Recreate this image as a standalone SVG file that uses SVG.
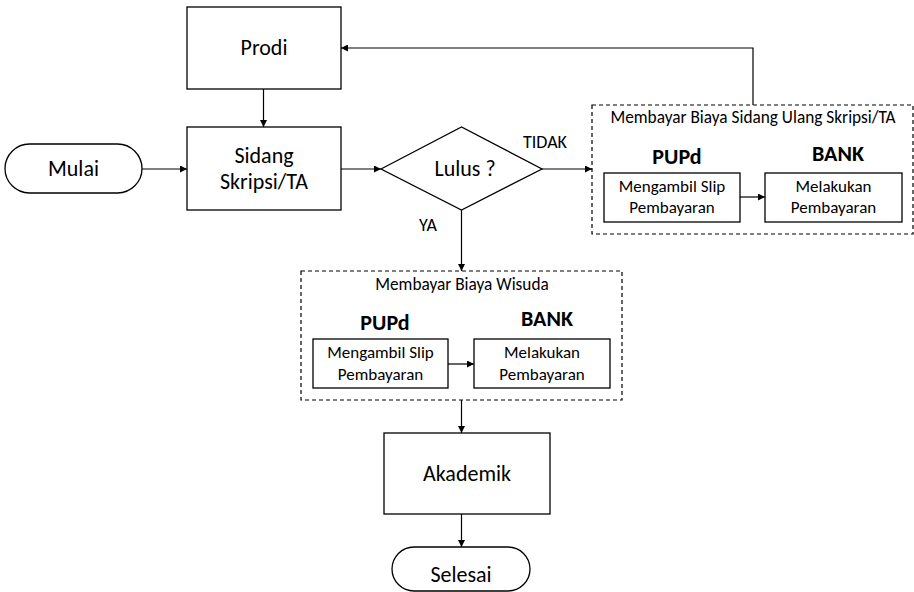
<svg xmlns="http://www.w3.org/2000/svg" width="914" height="592" viewBox="0 0 914 592">
<defs>
<marker id="ah" viewBox="0 0 10 10" refX="10" refY="5" markerWidth="7" markerHeight="7" markerUnits="userSpaceOnUse" orient="auto">
<path d="M0,0 L10,5 L0,10 z" fill="#000"/>
</marker>
<style>
text{font-family:Carlito,Lato,"Liberation Sans",sans-serif;fill:#000;text-anchor:middle}
.box{fill:#fff;stroke:#000;stroke-width:1.3}
.dash{fill:none;stroke:#000;stroke-width:1.2;stroke-dasharray:4 3}
.c{fill:none;stroke:#000;stroke-width:1.2;marker-end:url(#ah)}
.big{font-size:22px}
.sm{font-size:17px}
.ttl{font-size:17.3px}
.lbl{font-size:18px}
.bold{font-size:22px;font-weight:bold}
</style>
</defs>
<rect width="914" height="592" fill="#fff"/>
<g id="connectors">
<path class="c" d="M263.5,89 V127"/>
<path class="c" d="M142,169 H187"/>
<path class="c" d="M341,169 H381"/>
<path class="c" d="M542,169 H592"/>
<path class="c" d="M753,105 V48 H341"/>
<path class="c" d="M461.5,210 V271"/>
<path class="c" d="M740,197 H765"/>
<path class="c" d="M448,364 H474"/>
<path class="c" d="M461.5,400 V433"/>
<path class="c" d="M461.5,514 V547"/>
</g>
<g id="prodi"><rect class="box" x="187" y="7" width="154" height="82"/><text class="big" x="264" y="55">Prodi</text></g>
<g id="mulai"><rect class="box" x="5" y="144" width="137" height="49" rx="24.5"/><text class="big" x="73.5" y="176">Mulai</text></g>
<g id="sidang"><rect class="box" x="187" y="127" width="154" height="83"/><text class="big" x="264" y="163">Sidang</text><text class="big" x="264" y="189">Skripsi/TA</text></g>
<g id="lulus"><polygon class="box" points="381,169 461.5,127 542,169 461.5,210"/><text class="big" x="465" y="176">Lulus ?</text></g>
<text class="lbl" x="545" y="148">TIDAK</text>
<text class="lbl" x="428" y="231">YA</text>
<g id="ulang">
<rect class="dash" x="592" y="105" width="321" height="129"/>
<text class="ttl" x="753" y="123">Membayar Biaya Sidang Ulang Skripsi/TA</text>
<text class="bold" x="677" y="164">PUPd</text>
<text class="bold" x="838" y="161">BANK</text>
</g>
<g id="ulang-slip"><rect class="box" x="604" y="173" width="136" height="49"/><text class="sm" x="672" y="192">Mengambil Slip</text><text class="sm" x="672" y="213">Pembayaran</text></g>
<g id="ulang-bayar"><rect class="box" x="765" y="173" width="137" height="49"/><text class="sm" x="833.5" y="192">Melakukan</text><text class="sm" x="833.5" y="213">Pembayaran</text></g>
<g id="wisuda">
<rect class="dash" x="301" y="271" width="321" height="129"/>
<text class="ttl" x="462" y="290">Membayar Biaya Wisuda</text>
<text class="bold" x="385" y="330">PUPd</text>
<text class="bold" x="547" y="326">BANK</text>
</g>
<g id="wisuda-slip"><rect class="box" x="313" y="339" width="135" height="49"/><text class="sm" x="380.5" y="358">Mengambil Slip</text><text class="sm" x="380.5" y="380">Pembayaran</text></g>
<g id="wisuda-bayar"><rect class="box" x="474" y="339" width="136" height="49"/><text class="sm" x="542" y="358">Melakukan</text><text class="sm" x="542" y="380">Pembayaran</text></g>
<g id="akademik"><rect class="box" x="384" y="433" width="166" height="81"/><text class="big" x="467" y="481">Akademik</text></g>
<g id="selesai"><rect class="box" x="392" y="547" width="138" height="44" rx="22"/><text class="big" x="461" y="582">Selesai</text></g>
</svg>
